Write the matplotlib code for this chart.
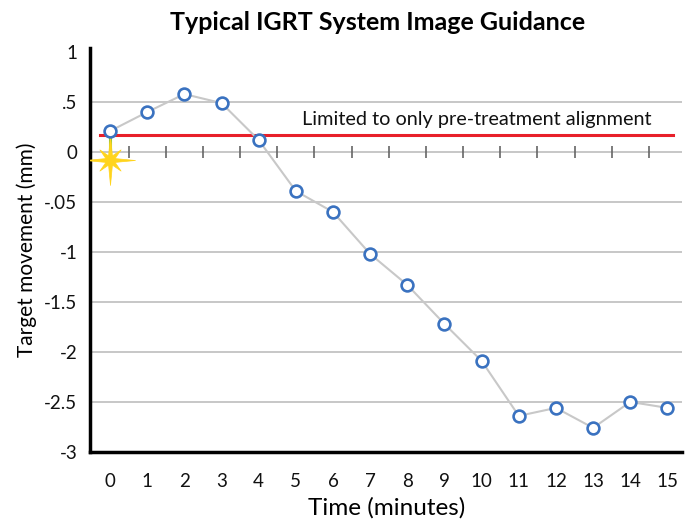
import numpy as np
import matplotlib
matplotlib.use("Agg")
import matplotlib.pyplot as plt
from matplotlib.path import Path

plt.rcParams['font.family'] = ['Lato', 'DejaVu Sans']

# data
minutes = list(range(16))
movement = [0.21, 0.40, 0.58, 0.49, 0.12, -0.39, -0.60, -1.02, -1.33,
            -1.72, -2.09, -2.64, -2.56, -2.76, -2.50, -2.56]
ytick_vals = [1, 0.5, 0, -0.5, -1, -1.5, -2, -2.5, -3]
ytick_text = ["1", ".5", "0", "-.05", "-1", "-1.5", "-2", "-2.5", "-3"]
grid_vals = [0.5, 0, -0.5, -1, -1.5, -2, -2.5]
limit_level = 0.17
star_level = -0.08
half_ticks = [m + 0.5 for m in range(15)]

# sparkle marker: long rays on the axes, shorter on the diagonals
verts = []
for k in range(16):
    ang = np.pi / 2 + k * np.pi / 8
    if k % 2:
        r = 0.2
    elif k % 4 == 0:
        r = 1.0
    else:
        r = 0.6
    verts.append((r * np.cos(ang), r * np.sin(ang)))
verts.append(verts[0])
sparkle = Path(verts, closed=True)

fig = plt.figure(figsize=(6.92, 5.23), dpi=100)
ax = fig.add_axes([0.130, 0.136, 0.856, 0.772])

ax.set_xlim(-0.54, 15.4)
ax.set_ylim(-3, 1.04)

for g in grid_vals:
    ax.axhline(g, color="#bdbdbd", lw=1.2, zorder=1)

# small ticks along the zero line
ax.vlines(half_ticks, -0.06, 0.06, color="#666666", lw=1.2, zorder=2)

# pre-treatment alignment line
ax.plot([-0.27, 15.15], [limit_level, limit_level], color="#e8202a", lw=2.2, zorder=3)
ax.text(5.17, 0.245, "Limited to only pre-treatment alignment", fontsize=14.3,
        ha="left", va="bottom", color="#111111")

# green link and star
ax.plot([0, 0], [star_level, movement[0]], color="#7dc242", lw=2.2, zorder=3)
ax.plot(0, star_level, marker=sparkle, ms=36, color="#ffd41c", mec="#ffd41c",
        mew=0.5, zorder=4)

ax.plot(minutes, movement, color="#c8c8c8", lw=1.5, marker="o", ms=8.5,
        mfc="white", mec="#3a72c0", mew=1.9, zorder=5)

ax.set_xticks(minutes)
ax.set_yticks(ytick_vals)
ax.set_yticklabels(ytick_text)
ax.tick_params(axis="both", length=0, labelsize=13.5, colors="#111111")
ax.tick_params(axis="x", pad=15)
ax.tick_params(axis="y", pad=9)

for s in ["top", "right"]:
    ax.spines[s].set_visible(False)
for s in ["left", "bottom"]:
    ax.spines[s].set_linewidth(2.5)
    ax.spines[s].set_color("black")

ax.set_xlabel("Time (minutes)", fontsize=17.5, labelpad=5)
ax.set_ylabel("Target movement (mm)", fontsize=15, labelpad=5)
fig.text(0.545, 0.957, "Typical IGRT System Image Guidance", fontsize=18,
         fontweight="bold", ha="center", va="center")

fig.savefig("out.png", dpi=100)
